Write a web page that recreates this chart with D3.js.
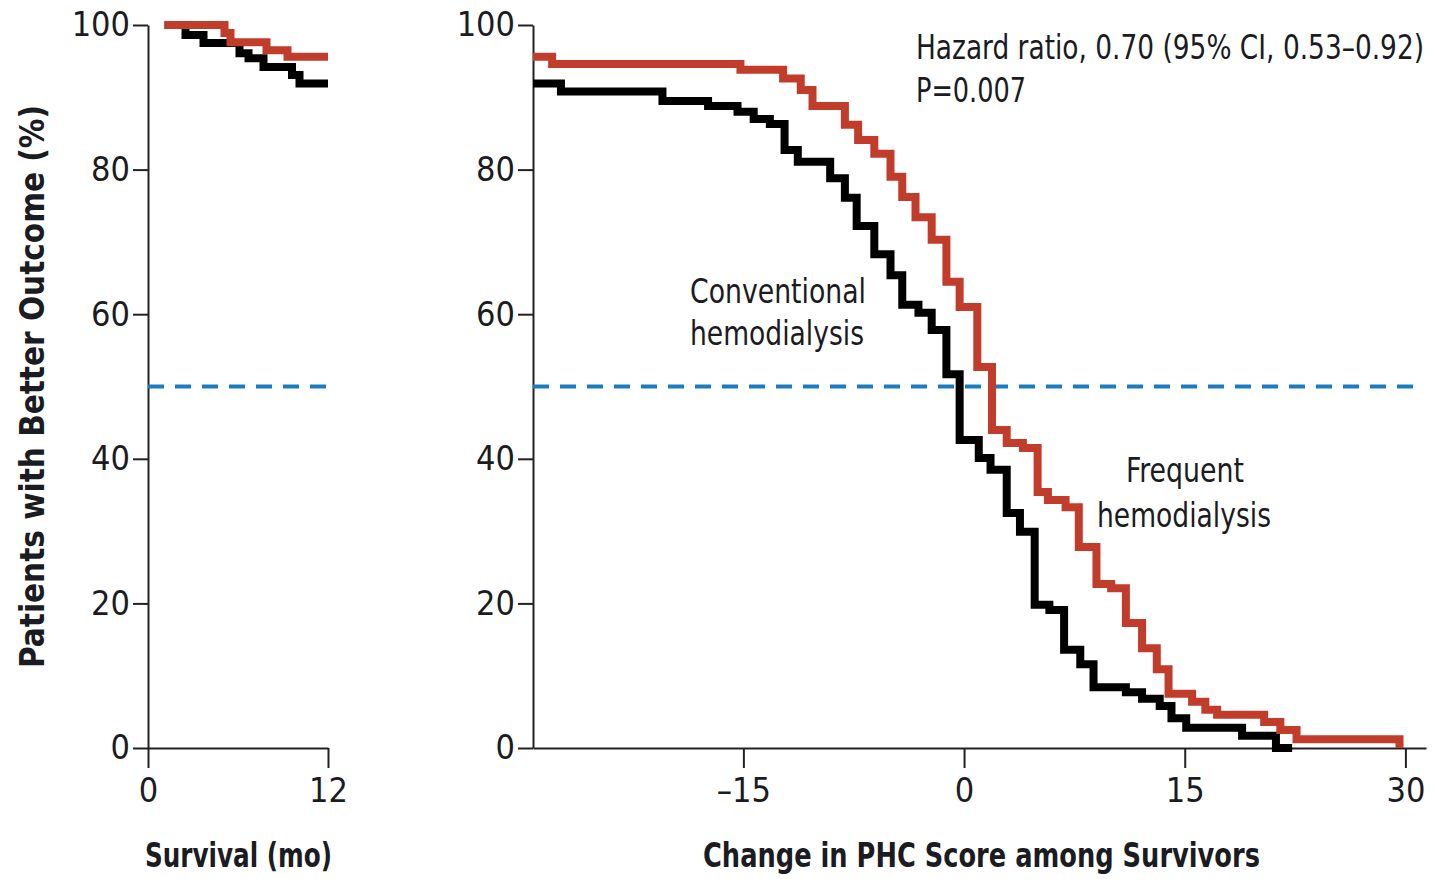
<!DOCTYPE html>
<html>
<head>
    <meta charset="utf-8">
    <title>Better outcome curves</title>
    <script src="https://d3js.org/d3.v7.min.js"></script>
    <style>
        body { margin: 0; padding: 0; background: #fff; }
        text { font-family: "Liberation Sans Narrow", "DejaVu Sans Condensed", "Liberation Sans", sans-serif; font-stretch: condensed; fill: #1b1b22; }
    </style>
</head>
<body>
    <div id="container"></div>

    <script>
        // ticks
        var pctTicks = [0, 20, 40, 60, 80, 100];
        var monthTicks = [0, 12];
        var scoreTicks = [-15, 0, 15, 30];

        // left panel: survival (months) -> % still in the "better outcome" group
        var survFreqMonth = [1.1, 5.1, 5.5, 7.9, 9.3, 12];
        var survFreqPct   = [100, 98.9, 97.6, 96.5, 95.6, 95.6];
        var survConvMonth = [1.1, 2.5, 3.7, 6.1, 6.7, 7.7, 9.6, 10.1, 12];
        var survConvPct   = [100, 98.6, 97.5, 96.1, 95.4, 94.2, 93.1, 91.9, 91.9];

        // right panel: change in PHC score among survivors
        var phcFreqScore = [-29.3, -28.0, -15.2, -12.3, -11.1, -10.3, -8.1, -7.2, -6.1, -5.0, -4.2, -3.3, -2.2, -1.2, -0.3,
            0.9, 1.9, 2.9, 4.0, 5.0, 5.7, 6.9, 7.8, 9.0, 10.0, 11.0, 12.1, 13.1, 13.9, 15.5, 16.4, 17.2, 20.4, 21.5, 22.6, 29.6];
        var phcFreqPct = [95.6, 94.6, 93.8, 92.6, 91.0, 88.8, 86.2, 84.1, 82.2, 79.0, 76.2, 73.4, 70.3, 64.5, 61.0,
            52.7, 44.0, 42.2, 41.5, 35.4, 34.3, 33.3, 27.8, 22.7, 22.1, 17.3, 13.8, 10.9, 7.5, 6.4, 5.3, 4.6, 3.6, 2.5, 1.2, 0];

        var phcConvScore = [-29.3, -27.4, -20.5, -17.4, -15.4, -14.3, -13.2, -12.2, -11.3, -9.1, -8.1, -7.3, -6.1, -5.0, -4.2,
            -3.1, -2.2, -1.2, -0.3, 1.0, 1.8, 2.9, 3.8, 4.8, 5.8, 6.8, 7.9, 8.8, 11.0, 12.1, 13.3, 14.1, 15.1, 18.9, 21.2, 22.3];
        var phcConvPct = [91.9, 90.8, 89.5, 88.8, 88.0, 87.0, 86.3, 82.7, 81.1, 78.8, 76.1, 72.2, 68.3, 65.4, 61.3,
            60.2, 57.8, 51.7, 42.6, 40.1, 38.5, 32.5, 29.9, 19.8, 19.1, 13.6, 11.6, 8.4, 7.7, 6.8, 5.8, 4.1, 2.8, 1.7, 0, 0];

        var red = "#c13c2a", black = "#000", blue = "#1c7cc0", axisColor = "#222";

        var svg = d3.select("#container").append("svg")
            .attr("width", 1434)
            .attr("height", 879);

        var y = d3.scaleLinear().domain([0, 100]).range([748, 25]);
        var xLeft = d3.scaleLinear().domain([0, 12]).range([148, 328]);
        var xRight = d3.scaleLinear().domain([-29.3, 31.4]).range([533, 1426]);

        function zip(xs, ys) { return xs.map((v, i) => [v, ys[i]]); }

        function drawAxes(x, ticks) {
            var gy = svg.append("g").attr("transform", `translate(${x.range()[0]},0)`)
                .call(d3.axisLeft(y).tickValues(pctTicks).tickSize(15).tickSizeOuter(0).tickPadding(3));
            var gx = svg.append("g").attr("transform", "translate(0,748)")
                .call(d3.axisBottom(x).tickValues(ticks).tickSize(20).tickSizeOuter(0).tickPadding(5)
                    .tickFormat(d => d < 0 ? "\u2013" + Math.abs(d) : d));
            [gy, gx].forEach(g => {
                g.selectAll("path, line").attr("stroke", axisColor).attr("stroke-width", 2);
                g.selectAll("text").style("font-size", "34px").attr("fill", "#1b1b22");
            });
            gx.selectAll("text").attr("dy", "0.85em");
        }

        function drawCurve(x, xs, ys, color) {
            var line = d3.line().curve(d3.curveStepAfter).x(d => x(d[0])).y(d => y(d[1]));
            svg.append("path")
                .datum(zip(xs, ys))
                .attr("d", line)
                .attr("fill", "none")
                .attr("stroke", color)
                .attr("stroke-width", 8)
                .attr("stroke-linejoin", "miter");
        }

        function drawHalf(x, x0, x1) {
            svg.append("line")
                .attr("x1", x(x0)).attr("x2", x(x1))
                .attr("y1", y(50)).attr("y2", y(50))
                .attr("stroke", blue).attr("stroke-width", 4)
                .attr("stroke-dasharray", "16 11");
        }

        // left panel
        drawAxes(xLeft, monthTicks);
        drawHalf(xLeft, 0, 12);
        drawCurve(xLeft, survConvMonth, survConvPct, black);
        drawCurve(xLeft, survFreqMonth, survFreqPct, red);

        // right panel
        drawAxes(xRight, scoreTicks);
        drawHalf(xRight, -29.3, 30.9);
        drawCurve(xRight, phcConvScore, phcConvPct, black);
        drawCurve(xRight, phcFreqScore, phcFreqPct, red);

        // labels
        function label(txt, x, yy, w, opts) {
            opts = opts || {};
            var t = svg.append("text")
                .attr("x", x).attr("y", yy)
                .style("font-size", (opts.size || 34) + "px")
                .style("font-weight", opts.bold ? "bold" : "normal")
                .attr("textLength", w)
                .attr("lengthAdjust", "spacingAndGlyphs")
                .text(txt);
            if (opts.rotate) t.attr("transform", `rotate(-90,${x},${yy})`);
            return t;
        }

        label("Patients with Better Outcome (%)", 44, 668, 563, { bold: true, size: 34, rotate: true });
        label("Survival (mo)", 145, 867, 187, { bold: true, size: 34 });
        label("Change in PHC Score among Survivors", 703, 867, 557, { bold: true, size: 34 });

        label("Hazard ratio, 0.70 (95% CI, 0.53\u20130.92)", 916, 59, 508, { size: 34 });
        label("P=0.007", 916, 102, 110, { size: 34 });

        label("Conventional", 690, 303, 176, { size: 33 });
        label("hemodialysis", 690, 345, 174, { size: 33 });
        label("Frequent", 1126, 482, 118, { size: 33 });
        label("hemodialysis", 1097, 527, 174, { size: 33 });
    </script>
</body>
</html>
